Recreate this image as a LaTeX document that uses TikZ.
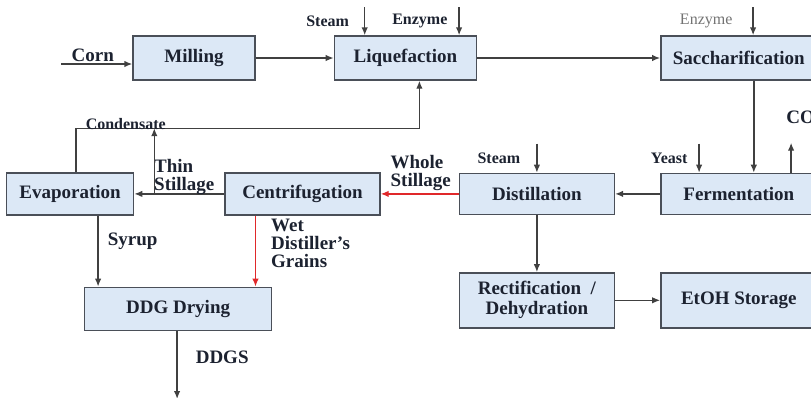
\documentclass[tikz,border=0pt]{standalone}
\usepackage{fontspec}
\setmainfont{Liberation Serif}
\usetikzlibrary{arrows.meta, positioning}

\definecolor{boxblue}{HTML}{DCE8F6}
\definecolor{boxline}{HTML}{4A4F58}
\definecolor{stillred}{HTML}{E0282A}
\definecolor{textnavy}{HTML}{1C2230}

\begin{document}
\begin{tikzpicture}[
    % Define standard styles for the diagram components
    x=1pt, y=1pt,
    node distance=78pt,
    procbox/.style={
        rectangle,
        draw=boxline,
        fill=boxblue,
        line width=1.4pt,
        minimum width=155pt,
        minimum height=43pt,
        align=center,
        inner sep=2pt,
        text=textnavy,
        font=\fontsize{19}{20}\selectfont\bfseries
    },
    flow/.style={
        -{Latex[length=8pt, width=6.5pt]},
        line width=1.4pt,
        draw=black!75
    },
    redflow/.style={
        flow,
        draw=stillred
    },
    lbl/.style={
        inner sep=1pt,
        align=left,
        text=textnavy,
        font=\fontsize{19}{18}\selectfont\bfseries
    },
    smalllbl/.style={
        inner sep=1pt,
        text=textnavy,
        font=\fontsize{16}{18}\selectfont\bfseries
    }
]

\useasboundingbox (0,0) rectangle (811,-397);

% --- Nodes ---

% Top row
\node[procbox, minimum width=122pt, minimum height=44pt] (milling) at (194,-58) {Milling};
\node[procbox, minimum width=142pt, minimum height=44pt, right=78pt of milling] (liquef) {Liquefaction};
\node[procbox, minimum width=156pt, minimum height=44pt, right=183pt of liquef] (saccha) {Saccharification};

% Middle row (right to left)
\node[procbox, minimum width=156pt, minimum height=41pt, below=92pt of saccha] (ferment) {Fermentation};
\node[procbox, minimum height=41pt, left=45pt of ferment] (distil) {Distillation};
\node[procbox, minimum height=42pt, left=78pt of distil] (centri) {Centrifugation};
\node[procbox, minimum width=127pt, minimum height=42pt, left=90pt of centri] (evapor) {Evaporation};

% Bottom row
\node[procbox, minimum height=55pt, below=57pt of distil] (rectif) {Rectification~~/\\Dehydration};
\node[procbox, minimum width=156pt, minimum height=55pt, right=45pt of rectif] (etoh) {EtOH Storage};
\node[procbox, minimum width=187pt, minimum height=43pt, below=71pt of evapor, xshift=108pt] (ddgdry) {DDG Drying};

% --- Free ends and bend points of the lines ---
\coordinate[left=71pt of milling.west, yshift=-6pt] (cornin);
\coordinate[above=28pt of liquef.north west, xshift=31pt] (steamliq);
\coordinate[above=28pt of liquef.north east, xshift=-18pt] (enzliq);
\coordinate[above=28pt of saccha.north west, xshift=93pt] (enzsac);
\coordinate[above=29pt of ferment.north west, xshift=39pt] (yeastin);
\coordinate[above=30pt of ferment.north west, xshift=131pt] (co2out);
\coordinate[above=29pt of distil.north] (steamdis);
\coordinate[below=68pt of ddgdry.south, xshift=-1pt] (ddgsout);
\coordinate[above=44pt of evapor.north, xshift=6pt] (condy);
\coordinate[right=14pt of liquef.south] (condin);
\coordinate[right=28pt of evapor.south] (syrupout);
\coordinate[left=47pt of centri.south] (wdgout);
\coordinate[right=20pt of evapor.east] (thinup);

% --- Connections ---
\draw[flow] (cornin) -- (cornin -| milling.west)
    node[lbl, above, midway, xshift=-4pt, yshift=1pt] {Corn};
\draw[flow] (milling.east) -- (liquef.west);
\draw[flow] (steamliq) -- (steamliq |- liquef.north)
    node[smalllbl, left, midway, xshift=-14pt] {Steam};
\draw[flow] (enzliq) -- (enzliq |- liquef.north)
    node[smalllbl, left, midway, xshift=-10pt] {Enzyme};
\draw[flow] (liquef.east) -- (saccha.west);
\draw[flow] (enzsac) -- (enzsac |- saccha.north)
    node[smalllbl, left, midway, xshift=-19pt, font=\fontsize{16}{18}\selectfont, text=black!55] {Enzyme};
\draw[flow] ([xshift=15pt]saccha.south) -- ([xshift=15pt]ferment.north);
\draw[flow] (yeastin) -- (yeastin |- ferment.north)
    node[smalllbl, left, midway, xshift=-10pt] {Yeast};
\draw[flow] (co2out |- ferment.north) -- (co2out);
\node[lbl, anchor=west] (co2) at ([xshift=-6pt, yshift=25pt]co2out) {CO2};
\draw[flow] (ferment.west) -- (distil.east);
\draw[flow] (steamdis) -- (distil.north)
    node[smalllbl, left, midway, xshift=-15pt] {Steam};
\draw[flow] (distil.south) -- (rectif.north);
\draw[flow] (rectif.east) -- (etoh.west);

% Stillage side
\draw[redflow] (distil.west) -- (centri.east)
    node[lbl, above, midway, yshift=2pt, xshift=1pt] {Whole\\Stillage};
\draw[flow] (centri.west) -- (evapor.east)
    node[lbl, above, midway, yshift=-2pt, xshift=5pt] {Thin\\Stillage};
\draw[flow] (thinup) -- (thinup |- condy);
\draw[flow] ([xshift=6pt]evapor.north) -- (condy)
    node[smalllbl, above right, pos=1, xshift=8pt, yshift=-3pt] {Condensate}
    -- (condy -| condin) -- (condin);
\draw[flow] (syrupout) -- (syrupout |- ddgdry.north)
    node[lbl, right, midway, xshift=8pt, yshift=10pt] {Syrup};
\draw[redflow] (wdgout) -- (wdgout |- ddgdry.north)
    node[lbl, right, midway, xshift=14pt, yshift=8pt] {Wet\\Distiller’s\\Grains};
\draw[flow] (ddgsout |- ddgdry.south) -- (ddgsout)
    node[lbl, right, midway, xshift=17pt, yshift=8pt] {DDGS};

\end{tikzpicture}
\end{document}
